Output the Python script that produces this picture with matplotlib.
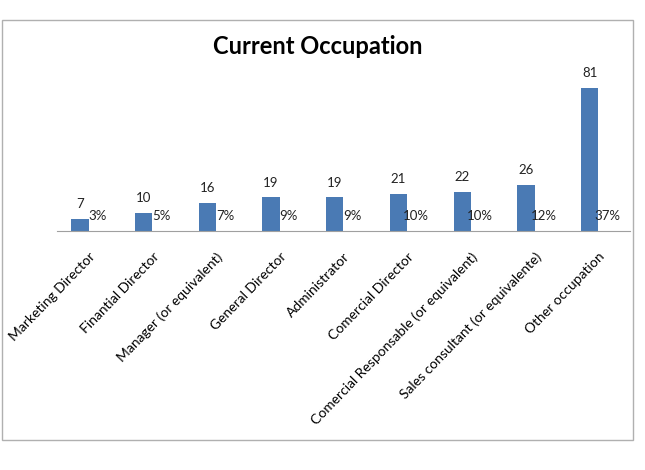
import matplotlib
matplotlib.use("Agg")
import matplotlib.pyplot as plt
import numpy as np
from matplotlib.patches import Rectangle

plt.rcParams['font.family'] = ['Lato', 'DejaVu Sans']

# Daten
occupations = ['Marketing Director', 'Finantial Director', 'Manager (or equivalent)',
               'General Director', 'Administrator', 'Comercial Director',
               'Comercial Responsable (or equivalent)', 'Sales consultant (or equivalente)',
               'Other occupation']
counts = [7, 10, 16, 19, 19, 21, 22, 26, 81]
percents = [3, 5, 7, 9, 9, 10, 10, 12, 37]

fig = plt.figure(figsize=(6.45, 4.7), dpi=100)
ax = fig.add_axes([0.0884, 0.5085, 0.889, 0.3385])

# Rahmen um das ganze Diagramm
fig.patches.append(Rectangle((2 / 645, 30 / 470), 631 / 645, 420 / 470,
                             transform=fig.transFigure, fill=False,
                             edgecolor='#b0b0b0', linewidth=1.0))

x = np.arange(len(occupations))
w = 0.27
ax.bar(x - 0.14, counts, width=w, color='#4a7ab4')
# Prozentwerte als zweite Serie (Anteil, praktisch unsichtbar)
pct_vals = [p / 100 for p in percents]
ax.bar(x + 0.14, pct_vals, width=w, color='#4a7ab4', alpha=0.0)

for xi, c in zip(x, counts):
    ax.text(xi - 0.14, c + 5, str(c), ha='center', va='bottom', fontsize=9.5, color='#222222')
for xi, p, pv in zip(x, percents, pct_vals):
    ax.text(xi + 0.14, pv + 5, f'{p}%', ha='center', va='bottom', fontsize=9.5, color='#222222')

ax.set_xlim(-0.5, len(occupations) - 0.5)
ax.set_ylim(0, 90)
ax.set_yticks([])
ax.set_xticks(x)
ax.set_xticklabels(occupations, rotation=46, ha='right', rotation_mode='anchor', fontsize=10)
ax.tick_params(axis='x', length=0, pad=14)
for s in ['top', 'right', 'left']:
    ax.spines[s].set_visible(False)
ax.spines['bottom'].set_color('#a0a0a0')

fig.text(0.493, 0.9, 'Current Occupation', ha='center', va='center',
         fontsize=17, fontweight='bold')

fig.savefig('out.png', dpi=100)
